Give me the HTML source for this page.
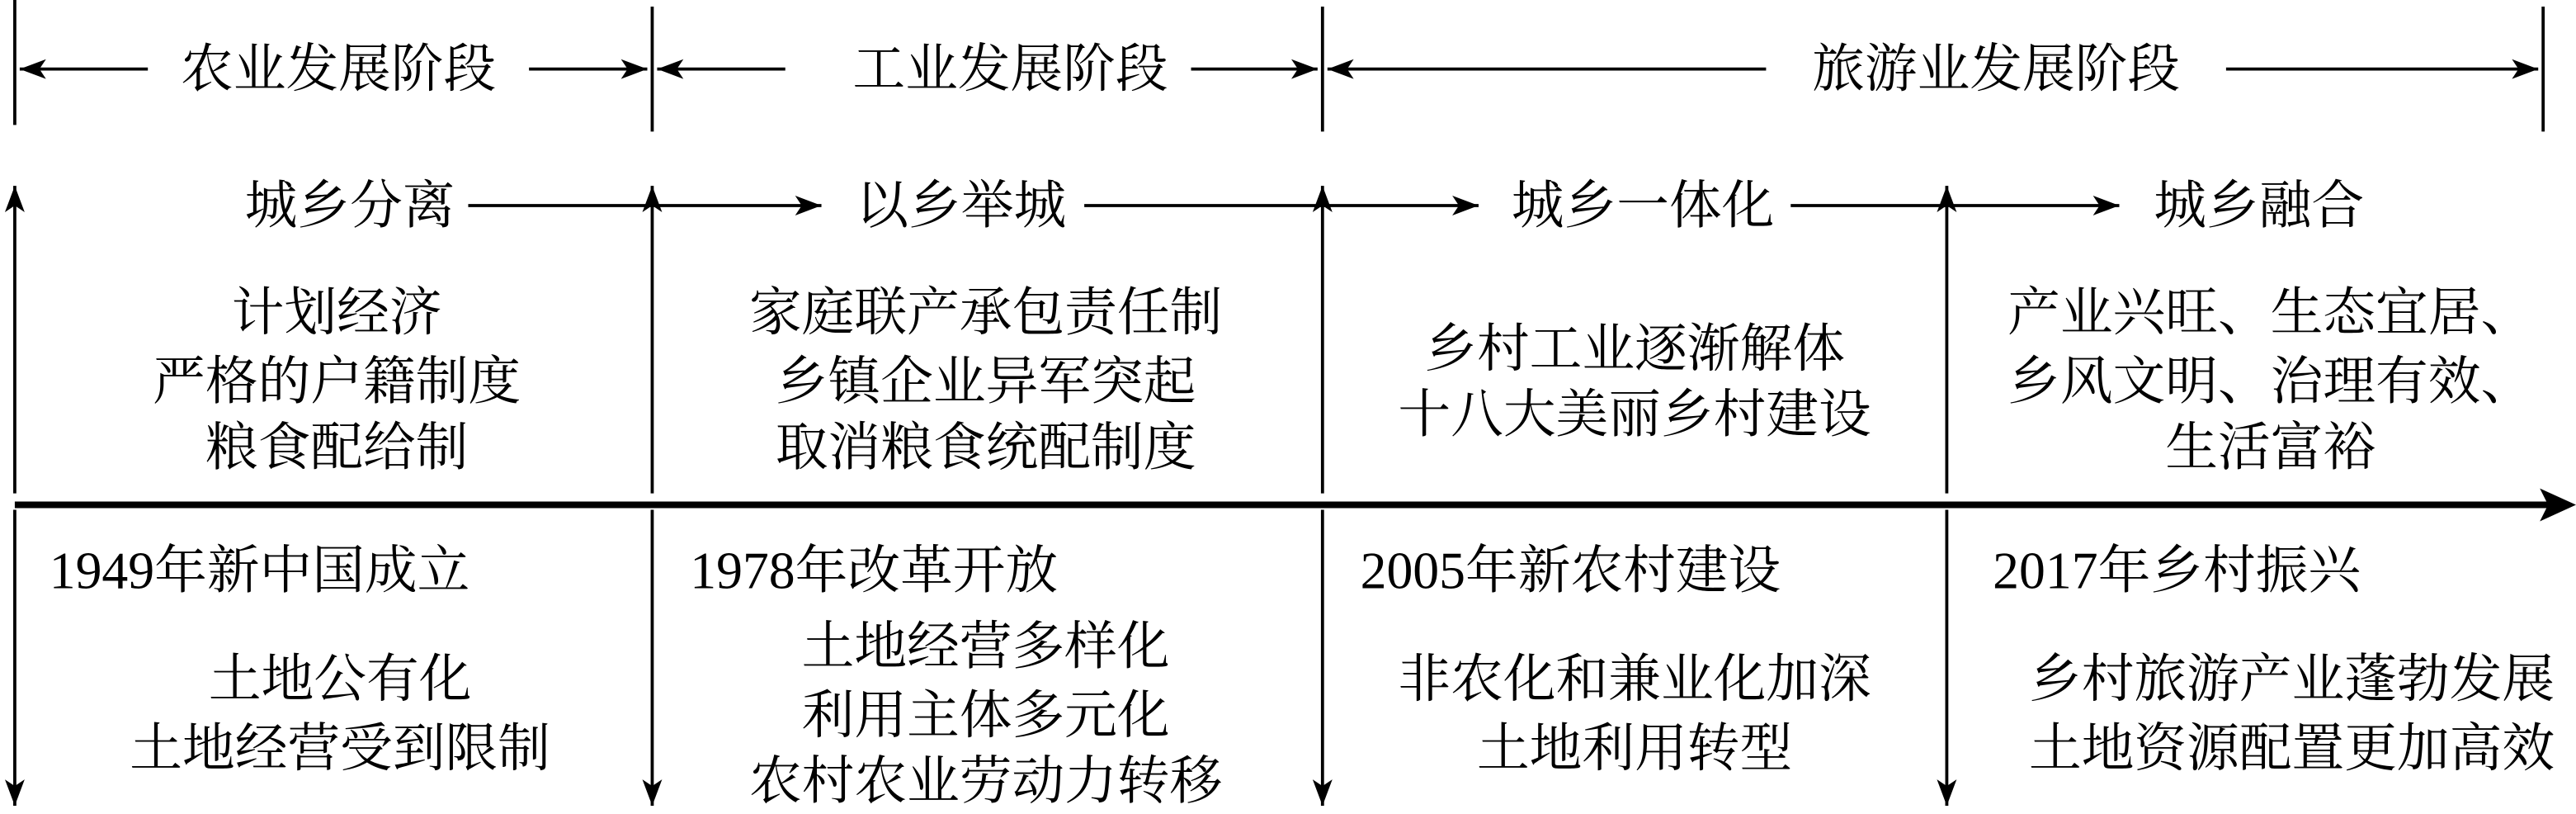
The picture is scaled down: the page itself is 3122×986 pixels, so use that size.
<!DOCTYPE html>
<html><head><meta charset="utf-8"><style>
html,body{margin:0;padding:0;background:#fff}
svg{display:block}
text{font-family:"Liberation Serif","Noto Serif CJK SC","Noto Sans CJK SC",serif;font-size:32px;fill:#000}
</style></head><body>
<svg width="3122" height="986" viewBox="0 0 1568 495" preserveAspectRatio="none" xmlns="http://www.w3.org/2000/svg">
<defs>
<marker id="a" viewBox="0 0 16 12" refX="16" refY="6" markerWidth="16" markerHeight="12" markerUnits="userSpaceOnUse" orient="auto-start-reverse">
<path d="M0,0 L16,6 L0,12 L4,6 Z" fill="#000"/>
</marker>
</defs>
<g stroke="#000" stroke-width="1.9" fill="none">
<line x1="9" y1="0" x2="9" y2="76"/>
<line x1="397" y1="4" x2="397" y2="80"/>
<line x1="805" y1="4" x2="805" y2="80"/>
<line x1="1548" y1="4" x2="1548" y2="80"/>
<line x1="90" y1="42" x2="12" y2="42" marker-end="url(#a)"/>
<line x1="322" y1="42" x2="394" y2="42" marker-end="url(#a)"/>
<line x1="478" y1="42" x2="400" y2="42" marker-end="url(#a)"/>
<line x1="725" y1="42" x2="802" y2="42" marker-end="url(#a)"/>
<line x1="1075" y1="42" x2="808" y2="42" marker-end="url(#a)"/>
<line x1="1355" y1="42" x2="1545" y2="42" marker-end="url(#a)"/>
<line x1="285" y1="125" x2="500" y2="125" marker-end="url(#a)"/>
<line x1="660" y1="125" x2="900" y2="125" marker-end="url(#a)"/>
<line x1="1090" y1="125" x2="1290" y2="125" marker-end="url(#a)"/>
<line x1="9" y1="300" x2="9" y2="113" marker-end="url(#a)"/>
<line x1="9" y1="310" x2="9" y2="490" marker-end="url(#a)"/>
<line x1="397" y1="300" x2="397" y2="113" marker-end="url(#a)"/>
<line x1="397" y1="310" x2="397" y2="490" marker-end="url(#a)"/>
<line x1="805" y1="300" x2="805" y2="113" marker-end="url(#a)"/>
<line x1="805" y1="310" x2="805" y2="490" marker-end="url(#a)"/>
<line x1="1185" y1="300" x2="1185" y2="113" marker-end="url(#a)"/>
<line x1="1185" y1="310" x2="1185" y2="490" marker-end="url(#a)"/>
</g>
<line x1="9" y1="307" x2="1556" y2="307" stroke="#000" stroke-width="4"/>
<path d="M1568,307 L1546,297 L1551,307 L1546,317 Z" fill="#000"/>
<g text-anchor="middle" dominant-baseline="central">
<text x="206" y="42">农业发展阶段</text>
<text x="615" y="42">工业发展阶段</text>
<text x="1215" y="42">旅游业发展阶段</text>
<text x="213" y="125">城乡分离</text>
<text x="585" y="125">以乡举城</text>
<text x="1000" y="125">城乡一体化</text>
<text x="1375" y="125">城乡融合</text>
<text x="205" y="190">计划经济</text>
<text x="205" y="232">严格的户籍制度</text>
<text x="205" y="272">粮食配给制</text>
<text x="600" y="190">家庭联产承包责任制</text>
<text x="600" y="232">乡镇企业异军突起</text>
<text x="600" y="272">取消粮食统配制度</text>
<text x="995" y="212">乡村工业逐渐解体</text>
<text x="995" y="252">十八大美丽乡村建设</text>
<text x="1382" y="190">产业兴旺、生态宜居、</text>
<text x="1382" y="232">乡风文明、治理有效、</text>
<text x="1382" y="272">生活富裕</text>
<text x="207" y="413">土地公有化</text>
<text x="207" y="455">土地经营受到限制</text>
<text x="600" y="393">土地经营多样化</text>
<text x="600" y="435">利用主体多元化</text>
<text x="600" y="475">农村农业劳动力转移</text>
<text x="995" y="413">非农化和兼业化加深</text>
<text x="995" y="455">土地利用转型</text>
<text x="1395" y="413">乡村旅游产业蓬勃发展</text>
<text x="1395" y="455">土地资源配置更加高效</text>
</g>
<g dominant-baseline="central">
<text x="30" y="347">1949年新中国成立</text>
<text x="420" y="347">1978年改革开放</text>
<text x="828" y="347">2005年新农村建设</text>
<text x="1213" y="347">2017年乡村振兴</text>
</g>
</svg>
</body></html>
